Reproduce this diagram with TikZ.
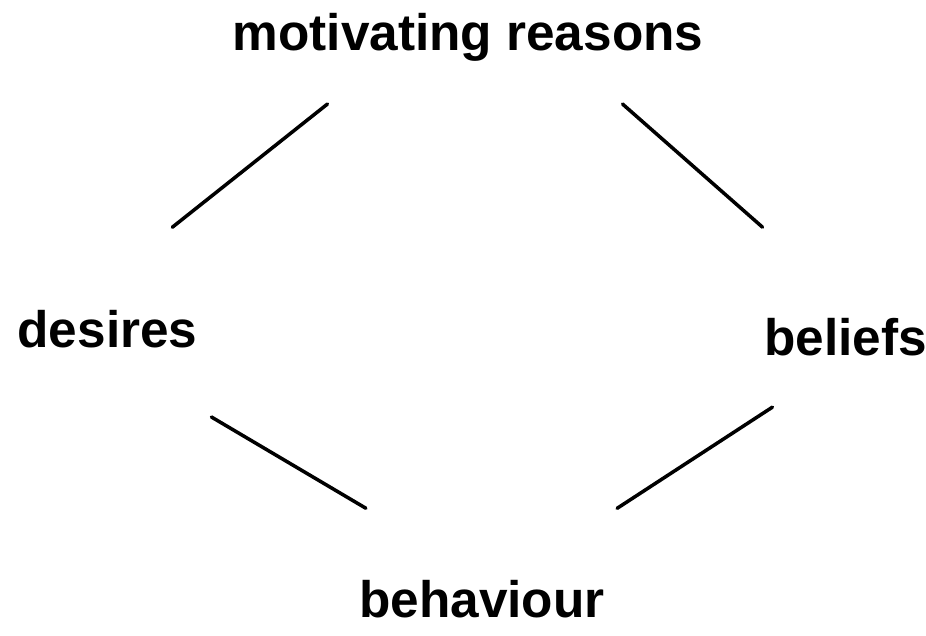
\documentclass[tikz,border=0pt]{standalone}
\usepackage{fontspec}
\setmainfont{Liberation Sans}
\usepackage{tikz}
\usetikzlibrary{calc}

\begin{document}
\begin{tikzpicture}[x=0.01cm, y=-0.01cm,
    term/.style={inner sep=0pt, anchor=base, font=\fontsize{14.6}{17}\selectfont\bfseries,
                 text height=0.375cm, text depth=0.11cm},
    link/.style={black, line width=1pt, line cap=round}]
    \useasboundingbox (0,0) rectangle (926,636);
    \node[term] (motiv) at (468, 50) {motivating reasons};
    \node[term] (desires) at (107.5, 347) {desires};
    \node[term] (beliefs) at (845.5, 355) {beliefs};
    \node[term] (behav) at (482, 617) {behaviour};
    \draw[link, shorten <=1.310cm, shorten >=0.680cm]
        ([xshift=-0.378cm]desires.north) -- ([xshift=-0.872cm]motiv.south);
    \draw[link, shorten <=0.640cm, shorten >=1.355cm]
        ([xshift=1.064cm]motiv.south) -- ([xshift=0.188cm]beliefs.north);
    \draw[link, shorten <=1.145cm, shorten >=1.385cm]
        ([xshift=0.053cm]desires.south) -- ([xshift=0.032cm]behav.north);
    \draw[link, shorten <=0.740cm, shorten >=1.290cm]
        ([xshift=-0.110cm]beliefs.south) -- ([xshift=0.270cm]behav.north);
\end{tikzpicture}
\end{document}
